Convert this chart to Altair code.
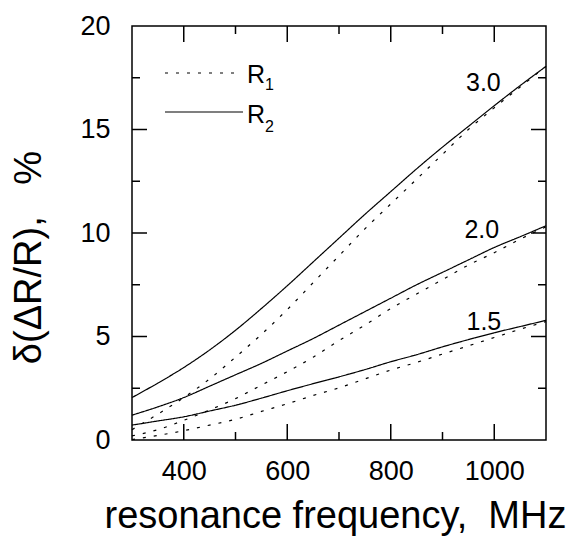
import altair as alt
import pandas as pd

# ---- data ----
freq = [300, 350, 400, 450, 500, 550, 600, 650, 700, 750, 800, 850, 900, 950, 1000, 1050, 1100]
r2_30 = [2.05, 2.75, 3.5, 4.35, 5.3, 6.35, 7.45, 8.6, 9.75, 10.9, 12.0, 13.1, 14.15, 15.15, 16.15, 17.12, 18.05]
r1_30 = [0.5, 1.25, 2.05, 2.95, 4.0, 5.1, 6.3, 7.6, 8.9, 10.2, 11.4, 12.6, 13.8, 15.0, 16.05, 17.05, 18.05]
r2_20 = [1.2, 1.6, 2.05, 2.6, 3.15, 3.7, 4.3, 4.9, 5.55, 6.2, 6.85, 7.5, 8.1, 8.7, 9.3, 9.82, 10.35]
r1_20 = [0.2, 0.5, 0.95, 1.45, 2.0, 2.65, 3.3, 4.0, 4.8, 5.55, 6.35, 7.05, 7.75, 8.45, 9.05, 9.7, 10.3]
r2_15 = [0.72, 0.92, 1.12, 1.4, 1.68, 2.02, 2.38, 2.72, 3.05, 3.4, 3.78, 4.12, 4.5, 4.85, 5.18, 5.48, 5.78]
r1_15 = [0.02, 0.22, 0.45, 0.72, 1.0, 1.38, 1.75, 2.15, 2.52, 2.95, 3.38, 3.75, 4.15, 4.55, 4.95, 5.35, 5.72]

curve_names = ["3.0", "2.0", "1.5"]
label_x = [979, 976, 980]
label_y = [17.25, 10.14, 5.7]

x_major = [400, 600, 800, 1000]
x_minor = [500, 700, 900]
y_major = [5, 10, 15]
y_minor = [2.5, 7.5, 12.5, 17.5]

FONT = "Liberation Sans"
W, H = 414, 414
NB = "\u00a0"

rows = []
for name, r1, r2 in [("3.0", r1_30, r2_30), ("2.0", r1_20, r2_20), ("1.5", r1_15, r2_15)]:
    for f, a, b in zip(freq, r1, r2):
        rows.append({"f": f, "v": a, "curve": name, "kind": "R1"})
        rows.append({"f": f, "v": b, "curve": name, "kind": "R2"})
df = pd.DataFrame(rows)

xs = alt.Scale(domain=[300, 1100], nice=False, zero=False)
ys = alt.Scale(domain=[0, 20], nice=False)

base_x = alt.X(
    "f:Q", scale=xs,
    axis=alt.Axis(
        values=x_major, format="d", ticks=False, tickSize=0, domain=False, grid=False,
        labelFont=FONT, labelFontSize=27, labelColor="black", labelPadding=18,
        title="resonance" + NB + "frequency," + NB * 2 + "MHz", titleFont=FONT, titleFontSize=38,
        titleFontWeight="normal", titleColor="black", titleY=87,
        titleBaseline="alphabetic", titleX=203,
    ),
)
base_y = alt.Y(
    "v:Q", scale=ys,
    axis=alt.Axis(
        values=[0, 5, 10, 15, 20], ticks=False, tickSize=0, domain=False, grid=False,
        labelFont=FONT, labelFontSize=27, labelColor="black", labelPadding=22,
        title="δ(ΔR/R)," + NB * 3 + "%", titleFont=FONT, titleFontSize=38,
        titleFontWeight="normal", titleColor="black",
        titleX=-103, titleY=231, titleAlign="center", titleBaseline="middle", titleAngle=270,
    ),
)

lines = alt.Chart(df).mark_line(color="black", strokeWidth=1.2, interpolate="monotone").encode(
    x=base_x,
    y=base_y,
    detail="curve:N",
    strokeDash=alt.StrokeDash(
        "kind:N",
        scale=alt.Scale(domain=["R1", "R2"], range=[[3, 8], [1, 0]]),
        legend=None,
    ),
)

# inward ticks on all four sides
xmaj = pd.DataFrame({"t": x_major})
xmin = pd.DataFrame({"t": x_minor})
ymaj = pd.DataFrame({"t": y_major})
ymin = pd.DataFrame({"t": y_minor})

def xticks(d, length):
    bottom = alt.Chart(d).mark_rule(color="black", strokeWidth=1.5).encode(
        x=alt.X("t:Q", scale=xs), y=alt.value(H), y2=alt.value(H - length))
    top = alt.Chart(d).mark_rule(color="black", strokeWidth=1.5).encode(
        x=alt.X("t:Q", scale=xs), y=alt.value(0), y2=alt.value(length))
    return bottom + top

def yticks(d, length):
    left = alt.Chart(d).mark_rule(color="black", strokeWidth=1.5).encode(
        y=alt.Y("t:Q", scale=ys), x=alt.value(0), x2=alt.value(length))
    right = alt.Chart(d).mark_rule(color="black", strokeWidth=1.5).encode(
        y=alt.Y("t:Q", scale=ys), x=alt.value(W), x2=alt.value(W - length))
    return left + right

ticks = xticks(xmaj, 16) + xticks(xmin, 8) + yticks(ymaj, 15) + yticks(ymin, 8)

labels_df = pd.DataFrame({"name": curve_names, "lx": label_x, "ly": label_y})
curve_labels = alt.Chart(labels_df).mark_text(
    font=FONT, fontSize=25, color="black", align="center", baseline="middle"
).encode(x=alt.X("lx:Q", scale=xs), y=alt.Y("ly:Q", scale=ys), text="name:N")

# legend
leg_dot = alt.Chart(pd.DataFrame({"k": ["R1"]})).mark_rule(
    color="black", strokeWidth=1.2, strokeDash=[3, 8]
).encode(x=alt.value(33), x2=alt.value(104), y=alt.value(47))
leg_sol = alt.Chart(pd.DataFrame({"k": ["R2"]})).mark_rule(
    color="black", strokeWidth=1.2
).encode(x=alt.value(33), x2=alt.value(111), y=alt.value(86))
leg_R1 = alt.Chart(pd.DataFrame({"s": ["R"]})).mark_text(
    font=FONT, fontSize=25, color="black", align="left", baseline="alphabetic"
).encode(x=alt.value(115), y=alt.value(57), text="s:N")
leg_s1 = alt.Chart(pd.DataFrame({"s": ["1"]})).mark_text(
    font=FONT, fontSize=16, color="black", align="left", baseline="alphabetic"
).encode(x=alt.value(133), y=alt.value(64), text="s:N")
leg_R2 = alt.Chart(pd.DataFrame({"s": ["R"]})).mark_text(
    font=FONT, fontSize=25, color="black", align="left", baseline="alphabetic"
).encode(x=alt.value(115), y=alt.value(97), text="s:N")
leg_s2 = alt.Chart(pd.DataFrame({"s": ["2"]})).mark_text(
    font=FONT, fontSize=16, color="black", align="left", baseline="alphabetic"
).encode(x=alt.value(133), y=alt.value(106), text="s:N")

chart = alt.layer(
    lines, ticks, curve_labels, leg_dot, leg_sol, leg_R1, leg_s1, leg_R2, leg_s2
).properties(
    width=W, height=H,
    autosize=alt.AutoSizeParams(type="none"),
    padding={"left": 124, "top": 18, "right": 34, "bottom": 96},
    background="white",
).configure_view(stroke="black", strokeWidth=1.5)

chart.save("out.html", embed_options={"renderer": "svg", "actions": False})
